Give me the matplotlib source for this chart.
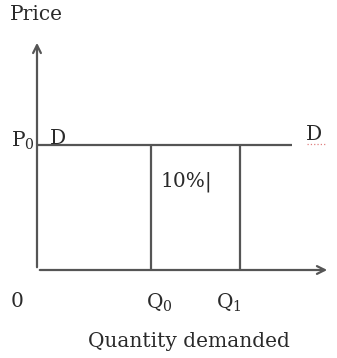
import matplotlib
matplotlib.use("Agg")
import matplotlib.pyplot as plt

# quantities (axis units) and price level
quantities = [10.0, 17.8]          # Q0, Q1
qty_labels = ["Q$_0$", "Q$_1$"]
price = 10.0                       # P0
demand_end = 22.4
x_arrow_end = 25.7
y_arrow_end = 18.4
box_label = "10%|"

plt.rcParams['font.family'] = ['DejaVu Serif']
plt.rcParams['mathtext.fontset'] = 'dejavuserif'

fig = plt.figure(figsize=(3.37, 3.58), dpi=100)
ax = fig.add_axes([0, 0, 1, 1])
ax.set_xlim(-37 / 11.4, 300 / 11.4)
ax.set_ylim(-88 / 12.5, 270 / 12.5)
ax.axis('off')

col = '#555555'
lw = 1.6
tcol = '#2a2a2a'

# axes with arrows
ax.annotate('', xy=(x_arrow_end, 0), xytext=(0, 0),
            arrowprops=dict(arrowstyle='->', color=col, lw=lw, mutation_scale=14))
ax.annotate('', xy=(0, y_arrow_end), xytext=(0, 0),
            arrowprops=dict(arrowstyle='->', color=col, lw=lw, mutation_scale=14))

# perfectly elastic demand
ax.plot([0, demand_end], [price, price], color=col, lw=lw, solid_capstyle='butt')
for q in quantities:
    ax.plot([q, q], [0, price], color=col, lw=lw, solid_capstyle='butt')

fs = 14.5
ax.text(-2.37, 20.4, "Price", fontsize=fs, ha='left', va='center', color=tcol)
ax.text(-2.25, price - 0.15, "P$_0$", fontsize=fs, ha='left', va='baseline', color=tcol)
ax.text(1.15, price + 0.12, "D", fontsize=fs, ha='left', va='baseline', color=tcol)
ax.text(23.6, price + 0.4, "D", fontsize=fs, ha='left', va='baseline', color=tcol)
ax.plot([23.7, 25.3], [price + 0.05, price + 0.05], color='#e08080', lw=0.9, ls=':')
ax.text(10.8, 7.04, box_label, fontsize=fs, ha='left', va='center', color=tcol)

ax.text(-1.75, -2.5, "0", fontsize=fs, ha='center', va='center', color=tcol)
for q, lab in zip(quantities, qty_labels):
    ax.text(q + 0.7 if q == quantities[0] else q - 1.0, -2.6, lab,
            fontsize=fs, ha='center', va='center', color=tcol)
ax.text(13.3, -5.7, "Quantity demanded", fontsize=fs, ha='center', va='center', color=tcol)

fig.savefig("out.png", dpi=100)
